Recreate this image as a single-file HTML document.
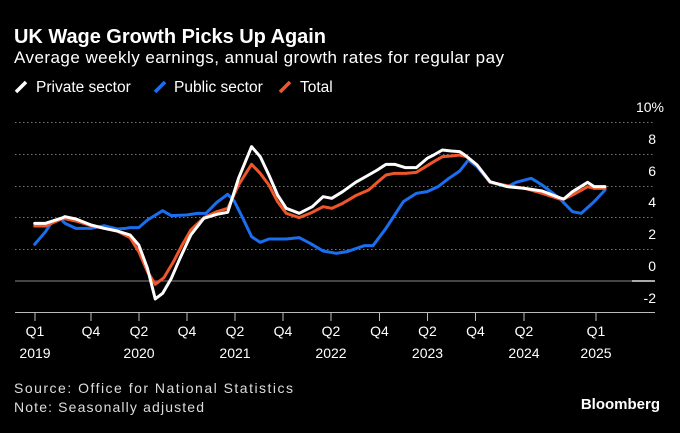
<!DOCTYPE html>
<html><head><meta charset="utf-8"><style>
body{margin:0;background:#000;width:680px;height:428px;overflow:hidden;font-family:"Liberation Sans",sans-serif;color:#fff}
</style></head><body>
<svg width="680" height="428" xmlns="http://www.w3.org/2000/svg" font-family="Liberation Sans, sans-serif">
<rect width="680" height="428" fill="#000"/>
<text x="14" y="43" font-size="20" font-weight="bold" fill="#fff" textLength="312">UK Wage Growth Picks Up Again</text>
<text x="14" y="63" font-size="17" fill="#fff" textLength="490">Average weekly earnings, annual growth rates for regular pay</text>
<g font-size="15.5" fill="#fff">
<line x1="16" y1="92" x2="26" y2="82" stroke="#fff" stroke-width="3.5"/>
<text x="36" y="92">Private sector</text>
<line x1="155" y1="92" x2="165" y2="82" stroke="#1a6ef0" stroke-width="3.5"/>
<text x="174" y="92">Public sector</text>
<line x1="280" y1="92" x2="290" y2="82" stroke="#f0562a" stroke-width="3.5"/>
<text x="300" y="92">Total</text>
</g>
<g stroke="#777" stroke-width="1" stroke-dasharray="1.5,2.5">
<line x1="15" y1="122.5" x2="655" y2="122.5"/>
<line x1="15" y1="154.5" x2="655" y2="154.5"/>
<line x1="15" y1="186.5" x2="655" y2="186.5"/>
<line x1="15" y1="217.5" x2="655" y2="217.5"/>
<line x1="15" y1="249.5" x2="655" y2="249.5"/>
</g>
<line x1="15" y1="281" x2="655" y2="281" stroke="#888" stroke-width="1"/>
<line x1="632" y1="281" x2="655" y2="281" stroke="#aaa" stroke-width="2"/>
<line x1="15" y1="312.5" x2="655" y2="312.5" stroke="#bbb" stroke-width="1"/>
<g font-size="14" fill="#fff" text-anchor="end">
<text x="664" y="112">10%</text>
<text x="656" y="144">8</text>
<text x="656" y="176">6</text>
<text x="656" y="207">4</text>
<text x="656" y="239">2</text>
<text x="656" y="271">0</text>
<text x="656" y="303">-2</text>
</g>
<g stroke="#bbb" stroke-width="1">
<line x1="35" y1="312" x2="35" y2="321"/><line x1="91" y1="312" x2="91" y2="321"/>
<line x1="139" y1="312" x2="139" y2="321"/><line x1="187" y1="312" x2="187" y2="321"/>
<line x1="235" y1="312" x2="235" y2="321"/><line x1="283" y1="312" x2="283" y2="321"/>
<line x1="331" y1="312" x2="331" y2="321"/><line x1="379.5" y1="312" x2="379.5" y2="321"/>
<line x1="427.5" y1="312" x2="427.5" y2="321"/><line x1="475.5" y1="312" x2="475.5" y2="321"/>
<line x1="524" y1="312" x2="524" y2="321"/><line x1="596" y1="312" x2="596" y2="321"/>
</g>
<g font-size="14" fill="#fff" text-anchor="middle">
<text x="35" y="336">Q1</text><text x="35" y="358">2019</text>
<text x="91" y="336">Q4</text>
<text x="139" y="336">Q2</text><text x="139" y="358">2020</text>
<text x="187" y="336">Q4</text>
<text x="235" y="336">Q2</text><text x="235" y="358">2021</text>
<text x="283" y="336">Q4</text>
<text x="331" y="336">Q2</text><text x="331" y="358">2022</text>
<text x="379.5" y="336">Q4</text>
<text x="427.5" y="336">Q2</text><text x="427.5" y="358">2023</text>
<text x="475.5" y="336">Q4</text>
<text x="524" y="336">Q2</text><text x="524" y="358">2024</text>
<text x="596" y="336">Q1</text><text x="596" y="358">2025</text>
</g>
<g transform="translate(0,95) scale(0.4337,0.33333)" fill="none" stroke-linejoin="round" stroke-linecap="round">
<polyline vector-effect="non-scaling-stroke" stroke="#1a6ef0" stroke-width="3" points="80,448 105,410 120,380 140,372 150,385 175,400 210,400 240,392 270,402 290,400 300,398 320,398 340,375 375,347 395,362 430,360 455,355 475,355 500,322 525,298 540,318 560,370 580,425 600,442 620,432 660,432 690,428 715,445 745,468 775,475 800,470 840,452 860,452 890,400 910,360 930,320 960,295 985,290 1010,275 1035,250 1060,228 1080,195 1100,215 1130,262 1170,275 1190,262 1225,250 1250,270 1290,310 1320,350 1340,355 1370,320 1395,285"/>
<polyline vector-effect="non-scaling-stroke" stroke="#f0562a" stroke-width="3" points="80,393 105,393 145,370 175,378 210,392 240,400 270,408 300,428 320,470 340,530 358,568 378,548 400,500 420,450 440,405 470,368 500,350 525,340 550,270 580,208 600,235 620,270 640,320 660,355 690,368 720,352 745,335 765,340 790,325 820,302 850,285 870,262 890,240 910,235 935,235 960,232 985,212 1000,200 1020,185 1040,183 1060,180 1075,185 1100,210 1130,262 1170,272 1210,280 1250,295 1290,312 1300,312 1320,300 1355,275 1370,280 1395,280"/>
<polyline vector-effect="non-scaling-stroke" stroke="#fff" stroke-width="3" points="80,385 105,385 145,368 150,365 175,372 210,390 240,400 270,408 300,420 320,450 340,520 358,612 375,595 395,550 415,490 440,420 470,370 500,358 525,352 550,250 580,155 600,185 620,240 640,300 660,340 690,355 720,335 745,305 765,310 790,290 820,262 850,240 870,225 890,208 910,208 935,218 960,218 985,190 1000,180 1020,165 1040,168 1060,170 1075,183 1100,210 1130,260 1170,275 1210,280 1250,288 1290,308 1300,312 1320,290 1355,262 1370,275 1395,275"/>
</g>
<g font-size="14" fill="#ddd">
<text x="14" y="393" textLength="279">Source: Office for National Statistics</text>
<text x="14" y="412" textLength="190">Note: Seasonally adjusted</text>
</g>
<text x="660" y="409" font-size="15" font-weight="bold" fill="#fff" text-anchor="end">Bloomberg</text>
</svg>
</body></html>
